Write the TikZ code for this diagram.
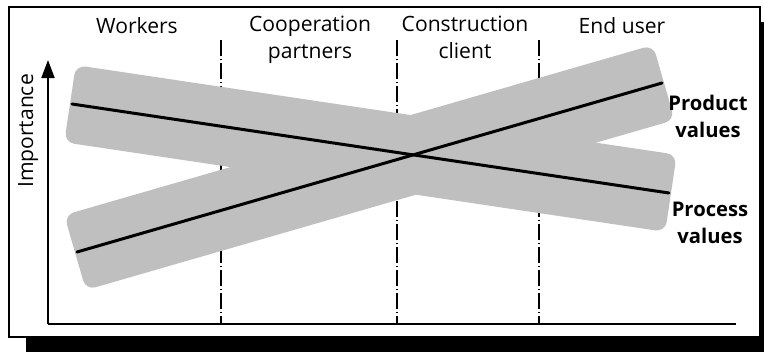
\documentclass[tikz,border=0pt]{standalone}
\usepackage{fontspec}
\setmainfont{Open Sans}
\usepackage{tikz}
\usetikzlibrary{arrows.meta,calc}

\begin{document}
\begin{tikzpicture}[x=0.2mm,y=-0.2mm,>={Triangle[length=3.6mm,width=2.6mm]},
        lbl/.style={font=\fontsize{12}{14.8}\selectfont,align=center,anchor=base,inner sep=0pt},
        vlbl/.style={lbl,font=\fontsize{11.5}{14.8}\selectfont\bfseries},
        band/.style={fill=black!25,rounded corners=2mm},
        value/.style={line width=0.6mm,line cap=round},
        divider/.style={line width=0.3mm,dash pattern=on 3.2mm off 0.6mm on 0.2mm off 0.6mm},
        axis/.style={line width=0.4mm}]
        \useasboundingbox (0,0) rectangle (764,352);
        \fill (26,22) rectangle (764,352);
        \draw[fill=white,line width=0.4mm] (9,7) rectangle (760,337);
        \coordinate (o) at (48,324);
        \coordinate (ytop) at (48,60);
        \coordinate (xend) at (736,324);
        \foreach \x in {221,397,539}
          \draw[divider] (\x,40) -- (\x,324);
        \coordinate (pa) at (77,252);
        \coordinate (pb) at (662,83);
        \coordinate (qa) at (72,104);
        \coordinate (qb) at (669,193);
        \foreach \a/\b in {pa/pb,qa/qb} {
          \coordinate (s) at ($(\a)!-0.4mm!(\b)$);
          \coordinate (e) at ($(\b)!-0.4mm!(\a)$);
          \fill[band] ($(s)!7.8mm!90:(e)$) -- ($(e)!7.8mm!-90:(s)$)
            -- ($(e)!7.8mm!90:(s)$) -- ($(s)!7.8mm!-90:(e)$) -- cycle;
        }
        \draw[value] (pa) -- (pb);
        \draw[value] (qa) -- (qb);
        \draw[axis,->] (o) -- (ytop);
        \draw[axis] (o) -- (xend);
        \node[lbl] (workers) at (137,33) {Workers};
        \node[lbl] (partners) at (310,58) {Cooperation\\partners};
        \node[lbl] (client) at (465,58) {Construction\\client};
        \node[lbl] (enduser) at (622,33) {End user};
        \node[lbl,rotate=90] (imp) at (33,131) {Importance};
        \node[vlbl] (product) at (708,137) {Product\\values};
        \node[vlbl] (process) at (710,243) {Process\\values};
      \end{tikzpicture}
\end{document}
